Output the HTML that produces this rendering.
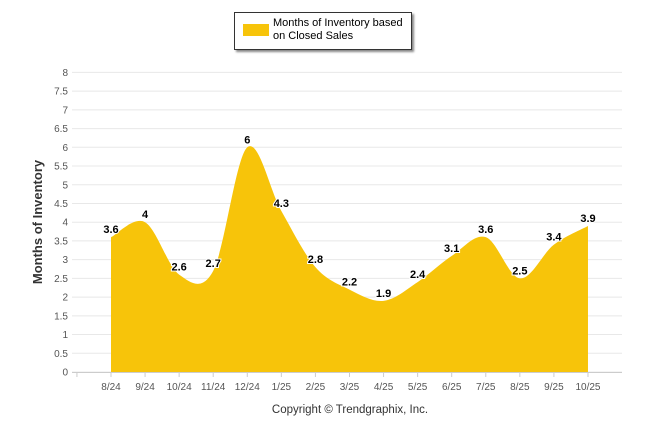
<!DOCTYPE html>
<html><head><meta charset="utf-8"><style>
body{margin:0;background:#fff;width:646px;height:434px;overflow:hidden;font-family:"Liberation Sans",sans-serif}
#legend{position:absolute;left:234px;top:12px;width:176px;height:36px;border:1px solid #333;background:#fff;box-shadow:2px 2px 2px #888}
#sw{position:absolute;left:8px;top:11px;width:26px;height:12px;background:#f7c40a}
#lt{position:absolute;left:38px;top:4px;font-size:11px;line-height:13px;color:#000;white-space:nowrap}
</style></head><body>
<div id="legend"><div id="sw"></div><div id="lt">Months of Inventory based<br>on Closed Sales</div></div>
<svg id="c" width="646" height="434" style="position:absolute;left:0;top:0"></svg>
<script>
const categories=["8/24","9/24","10/24","11/24","12/24","1/25","2/25","3/25","4/25","5/25","6/25","7/25","8/25","9/25","10/25"];
const values=[3.6,4,2.6,2.7,6,4.3,2.8,2.2,1.9,2.4,3.1,3.6,2.5,3.4,3.9];
const yTicks=[0,0.5,1,1.5,2,2.5,3,3.5,4,4.5,5,5.5,6,6.5,7,7.5,8];
const svg=document.getElementById('c');const NS='http://www.w3.org/2000/svg';
function mk(t,a,txt){const e=document.createElementNS(NS,t);for(const k in a)e.setAttribute(k,a[k]);if(txt!=null)e.textContent=txt;svg.appendChild(e);return e;}
const y=v=>372-v*37.45;
const x=i=>111+i*34.07;
yTicks.forEach(t=>{
 const g=mk('line',{x1:72,x2:622,y1:y(t),y2:y(t),stroke:'#e8e8e8','stroke-width':1});
 
 const l=mk('text',{x:68,y:y(t)+3.5,'text-anchor':'end','font-size':10,fill:'#555'},String(t));
 
});
const pts=values.map((v,i)=>[x(i),y(v)]);
let d='M'+pts[0][0]+','+pts[0][1];
for(let i=0;i<pts.length-1;i++){const p0=pts[Math.max(0,i-1)],p1=pts[i],p2=pts[i+1],p3=pts[Math.min(pts.length-1,i+2)];const k=1/6;
 d+=' C'+(p1[0]+(p2[0]-p0[0])*k)+','+(p1[1]+(p2[1]-p0[1])*k)+' '+(p2[0]-(p3[0]-p1[0])*k)+','+(p2[1]-(p3[1]-p1[1])*k)+' '+p2[0]+','+p2[1];}
const area=mk('path',{d:d+' L'+x(values.length-1)+','+y(0)+' L'+x(0)+','+y(0)+' Z',fill:'#f7c40a'});

const ax=mk('line',{x1:72,x2:622,y1:372.5,y2:372.5,stroke:'#ccc'});
const tk=mk('line',{x1:x(-1),x2:x(-1),y1:372,y2:377,stroke:'#ccc'});
categories.forEach((c,i)=>{
 const t=mk('line',{x1:x(i),x2:x(i),y1:372,y2:377,stroke:'#ccc'});
 const l=mk('text',{x:x(i),y:390,'text-anchor':'middle','font-size':10,fill:'#555'},c);
 
 const v=mk('text',{x:x(i),y:y(values[i])-4,'text-anchor':'middle','font-size':11,'font-weight':'bold',fill:'#000',stroke:'#fff','stroke-width':2,'paint-order':'stroke'},String(values[i]));
 
});
const yt=mk('text',{x:42,y:222,transform:'rotate(-90 42 222)','text-anchor':'middle','font-size':13,'font-weight':'bold',fill:'#333'},'Months of Inventory');

const cp=mk('text',{x:350,y:413,'text-anchor':'middle','font-size':11.5,fill:'#333'},'Copyright © Trendgraphix, Inc.');

</script>
</body></html>
